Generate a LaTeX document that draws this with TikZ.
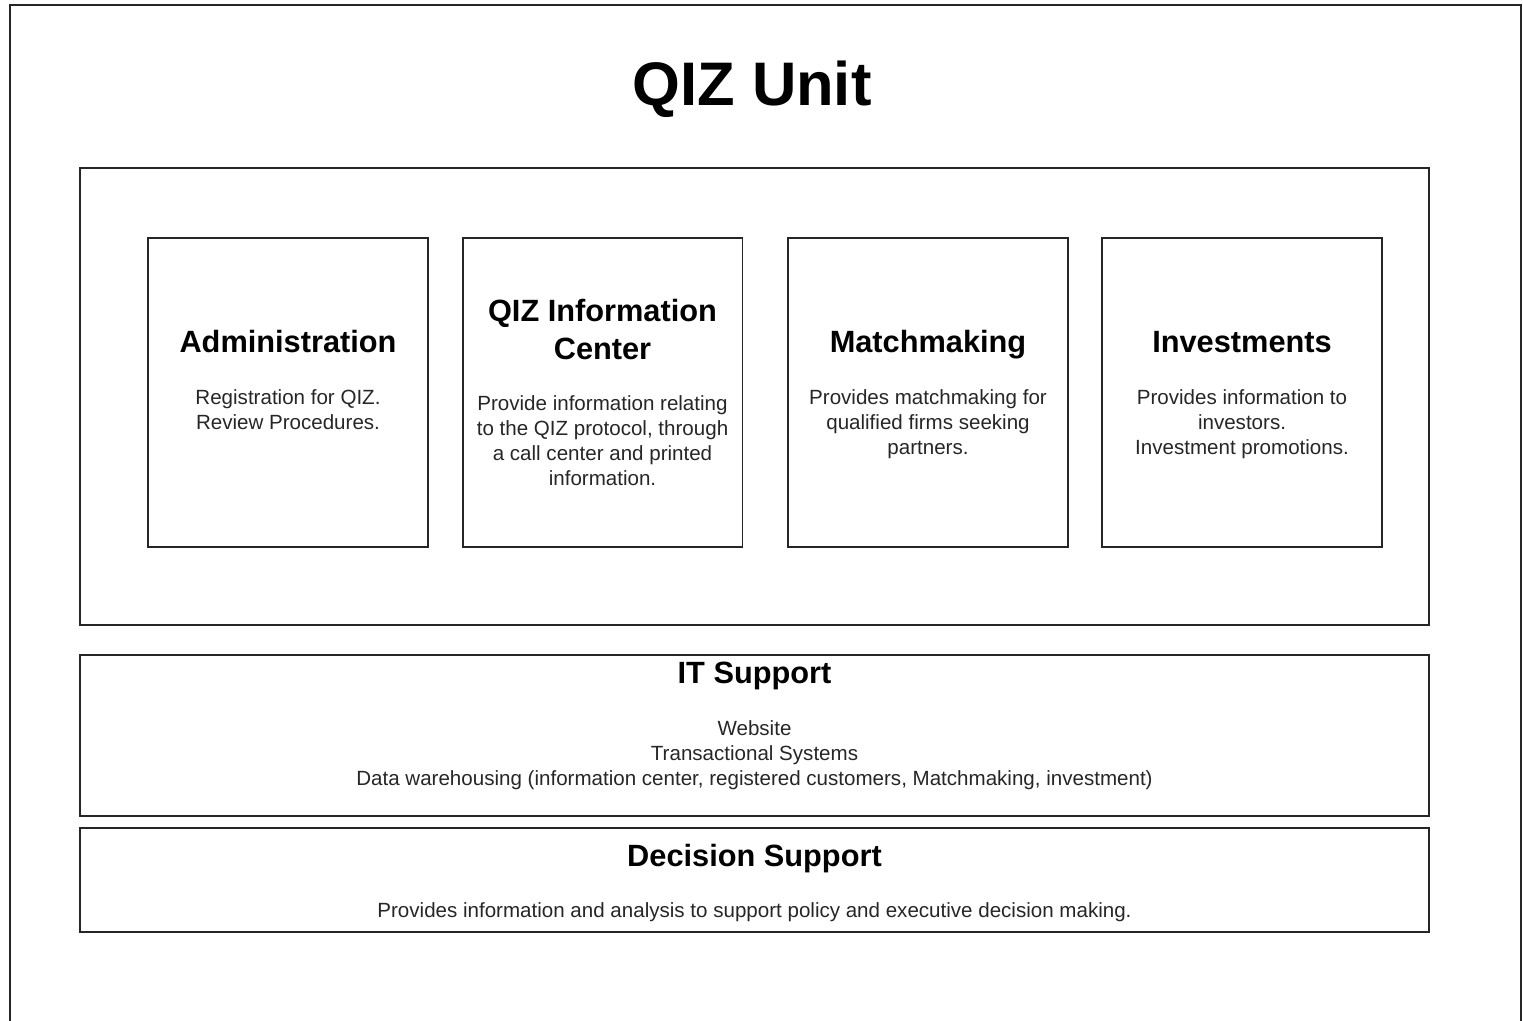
\documentclass[tikz,border=0pt]{standalone}
\usepackage{fontspec}
\setmainfont{Liberation Sans}
\usetikzlibrary{positioning}
\tikzset{
  frame/.style={draw=black!85, line width=1.1pt},
  unitbox/.style={frame, minimum width=5.6cm, minimum height=6.18cm, inner sep=0pt},
  barbox/.style={frame, minimum width=26.98cm, inner sep=0pt},
  head/.style={font=\fontsize{17.5}{21.5}\selectfont\bfseries, align=center, anchor=base, inner sep=0pt},
  body/.style={font=\fontsize{11.7}{14.2}\selectfont, align=center, anchor=base, inner sep=0pt, text=black!85},
}
\begin{document}
\begin{tikzpicture}[x=0.02cm, y=-0.02cm]
			\useasboundingbox (0,0) rectangle (1523,1020);
			\draw [frame] (10,1040) -- (10,5) -- (1521,5) -- (1521,1040);
			\node [font=\fontsize{35}{40}\selectfont\bfseries, anchor=base, inner sep=0pt] (title) at (752,106) {QIZ Unit};
			
			% the unit and its four sections (base = last line)
			\node [barbox, minimum height=9.14cm] (unit) at (754.5,396.5) {};
			\node [unitbox] (admin) at (288,392.5) {};
			\node [unitbox] (info) at (602.5,392.5) {};
			\node [unitbox] (match) at (928,392.5) {};
			\node [unitbox] (invest) at (1242,392.5) {};
			
			\node [head] (adminH) at (288,352) {Administration};
			\node [body] (adminB) at (288,429) {Registration for QIZ.\\Review Procedures.};
			\node [head] (infoH) at (602.5,359) {QIZ Information\\Center};
			\node [body] (infoB) at (602.5,485) {Provide information relating\\to the QIZ protocol, through\\a call center and printed\\information.};
			\node [head] (matchH) at (928,352) {Matchmaking};
			\node [body] (matchB) at (928,454) {Provides matchmaking for\\qualified firms seeking\\partners.};
			\node [head] (investH) at (1242,352) {Investments};
			\node [body] (investB) at (1242,454) {Provides information to\\investors.\\Investment promotions.};
			
			% support layers
			\node [barbox, minimum height=3.22cm] (it) at (754.5,735.5) {};
			\node [head] (itH) at (754.5,683) {IT Support};
			\node [body] (itB) at (754.5,785) {Website\\Transactional Systems\\Data warehousing (information center, registered customers, Matchmaking, investment)};
			
			\node [barbox, minimum height=2.08cm] (ds) at (754.5,880) {};
			\node [head] (dsH) at (754.5,866) {Decision Support};
			\node [body] (dsB) at (754.5,917) {Provides information and analysis to support policy and executive decision making.};
\end{tikzpicture}
\end{document}
